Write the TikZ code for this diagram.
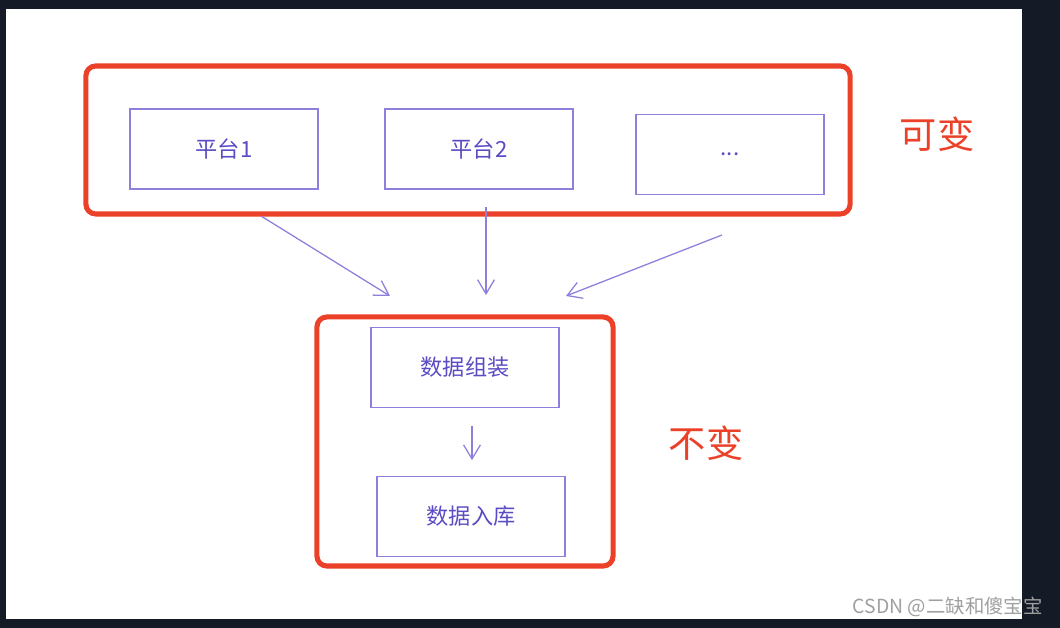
\documentclass[tikz,border=0pt]{standalone}
\usepackage{fontspec}
\setmainfont{Noto Sans CJK SC}
\usetikzlibrary{arrows.meta}
\definecolor{frameblue}{HTML}{141B27}
\definecolor{groupred}{HTML}{EC4129}
\definecolor{boxline}{HTML}{8C80DC}
\definecolor{boxtext}{HTML}{5A4CC4}
\definecolor{markgray}{HTML}{A0A0A0}

\begin{document}
\begin{tikzpicture}[x=0.025cm,y=-0.025cm,
    box/.style={draw=boxline,line width=0.9pt,inner sep=0pt,minimum width=4.7cm,minimum height=2cm,
        text=boxtext,font=\fontsize{15.8}{18}\selectfont},
    group/.style={draw=groupred,line width=3.6pt,rounded corners=7pt,inner sep=0pt},
    arr/.style={draw=boxline,line width=0.9pt,-{Straight Barb[length=10pt,width=12pt]}},
    tag/.style={text=groupred,font=\fontsize{26.5}{30}\selectfont}]
    % backdrop
    \fill[frameblue] (0,0) rectangle (1060,628);
    \fill[white] (6,9) rectangle (1022,619);
    % groups
    \node[group,minimum width=19.1cm,minimum height=3.7cm] (vary) at (468,140) {};
    \node[group,minimum width=7.4cm,minimum height=6.225cm] (fixed) at (465,441.5) {};
    \node[tag] (varytag) at (937,134) {可变};
    \node[tag] (fixedtag) at (706,443) {不变};
    % boxes
    \node[box] (plat1) at (224,149) {平台1};
    \node[box] (plat2) at (479,149) {平台2};
    \node[box] (platn) at (730,154.5) {...};
    \node[box] (build) at (465,367.5) {数据组装};
    \node[box] (store) at (471,516.5) {数据入库};
    % connectors
    \coordinate (s1) at (261,216);
    \coordinate (e1) at (390,296);
    \coordinate (s2) at (486,207);
    \coordinate (e2) at (486,295);
    \coordinate (s3) at (722,235);
    \coordinate (e3) at (566,296);
    \draw[arr] (s1) -- (e1);
    \draw[arr] (s2) -- (e2);
    \draw[arr] (s3) -- (e3);
    \draw[arr] (build.south -| 472,0) ++(0,18) coordinate (s4) -- ++(0,34) coordinate (e4);
    % watermark
    \node[anchor=east,text=markgray,inner sep=0pt,font=\fontsize{13.8}{16}\selectfont] (mark) at (1043,607) {CSDN @二缺和傻宝宝};
\end{tikzpicture}
\end{document}
